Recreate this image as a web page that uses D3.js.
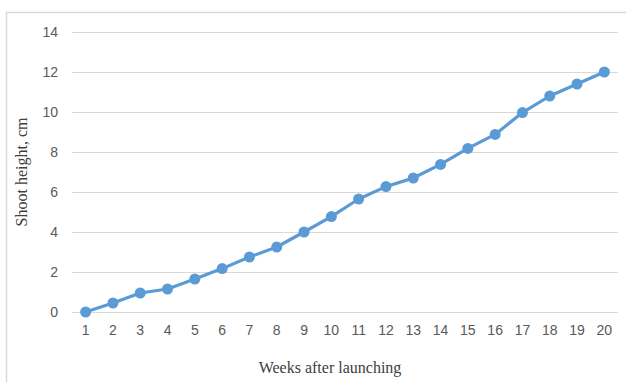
<!DOCTYPE html>
<html><head><meta charset="utf-8">
<script src="https://cdn.jsdelivr.net/npm/d3@7"></script>
<style>body{margin:0;background:#fff}svg{display:block}</style>
</head><body>
<svg id="c" width="626" height="382"></svg>
<script>
const weeks = ["1","2","3","4","5","6","7","8","9","10","11","12","13","14","15","16","17","18","19","20"];
const heights = [0,0.45,0.95,1.15,1.65,2.17,2.75,3.25,4.0,4.77,5.65,6.27,6.7,7.38,8.18,8.88,9.97,10.8,11.4,12.0];
const yTicks = [0,2,4,6,8,10,12,14];

const svg = d3.select("#c");
// outer border
svg.append("path").attr("d","M6.5,382 V12.5 H626").attr("fill","none").attr("stroke","#d9d9d9").attr("stroke-width",1.5);

const x = d3.scaleBand().domain(weeks).range([72,618]);
const y = d3.scaleLinear().domain([0,14]).range([312,32]);

// gridlines
svg.append("g").selectAll("line").data(yTicks).join("line")
  .attr("x1",72).attr("x2",618)
  .attr("y1",d=>Math.round(y(d))+0.5).attr("y2",d=>Math.round(y(d))+0.5)
  .attr("stroke","#d9d9d9").attr("stroke-width",1);

// y axis labels
const yAxis = d3.axisLeft(y).tickValues(yTicks).tickSize(0).tickPadding(0);
const gy = svg.append("g").attr("transform","translate(58,0)").call(yAxis);
gy.select(".domain").remove();
gy.selectAll("text").attr("font-family","'Liberation Sans', Arial, sans-serif").attr("font-size",14).attr("fill","#595959");

// x axis labels
const xAxis = d3.axisBottom(x).tickSize(0).tickPadding(0);
const gx = svg.append("g").attr("transform","translate(0,325)").call(xAxis);
gx.select(".domain").remove();
gx.selectAll("text").attr("font-family","'Liberation Sans', Arial, sans-serif").attr("font-size",14).attr("fill","#595959");

// line
const line = d3.line().x((d,i)=>x(weeks[i])+x.bandwidth()/2).y(d=>y(d));
svg.append("path").datum(heights).attr("d",line).attr("fill","none")
  .attr("stroke","#5b9bd5").attr("stroke-width",3.2).attr("stroke-linejoin","round");
svg.append("g").selectAll("circle").data(heights).join("circle")
  .attr("cx",(d,i)=>x(weeks[i])+x.bandwidth()/2).attr("cy",d=>y(d)).attr("r",5.5)
  .attr("fill","#5b9bd5");

// titles
svg.append("text").attr("transform","translate(27,172) rotate(-90)").attr("text-anchor","middle")
  .attr("font-family","'Liberation Serif', 'Times New Roman', serif").attr("font-size",16).attr("fill","#404040")
  .text("Shoot height, cm");
svg.append("text").attr("x",330).attr("y",373).attr("text-anchor","middle")
  .attr("font-family","'Liberation Serif', 'Times New Roman', serif").attr("font-size",16).attr("fill","#404040")
  .text("Weeks after launching");
</script>
</body></html>
